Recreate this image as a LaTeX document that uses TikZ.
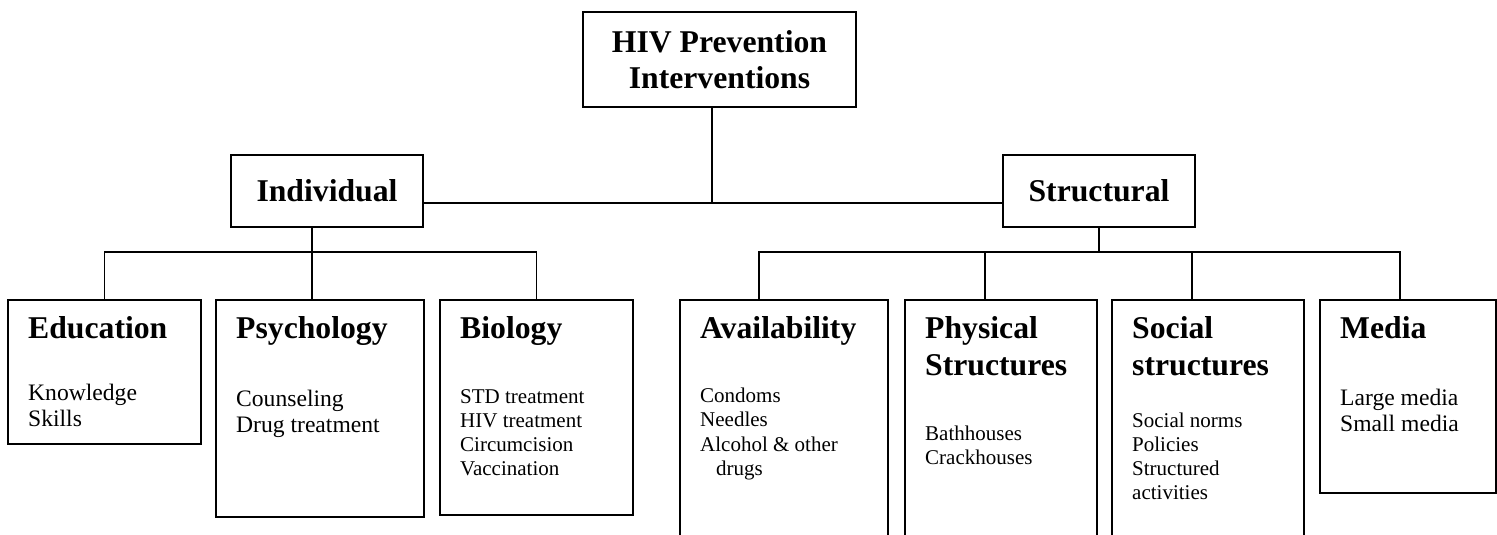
\documentclass[tikz,border=0pt]{standalone}
\usepackage{fontspec}
\setmainfont{Liberation Serif}

\begin{document}
\begin{tikzpicture}[x=1pt,y=-1pt,
  link/.style={line width=1.5pt},
  title/.style={draw, line width=1.5pt, inner sep=0pt, align=center,
    font=\fontsize{31.7}{36}\selectfont\bfseries},
  box/.style={draw, line width=1.5pt, inner sep=0pt, anchor=north west},
  head/.style={font=\fontsize{31.7}{37}\selectfont\bfseries, align=left,
    inner sep=0pt, anchor=base west, xshift=21pt},
  item/.style={font=\fontsize{21}{24.3}\selectfont, align=left,
    inner sep=0pt, anchor=base west, xshift=21pt},
  bigitem/.style={font=\fontsize{23.6}{26.5}\selectfont, align=left,
    inner sep=0pt, anchor=base west, xshift=21pt}]

\useasboundingbox (0,0) rectangle (1497,535);
\clip (0,0) rectangle (1497,535);

% top levels
\node[title, minimum width=273pt, minimum height=95pt] (top) at (719.5,59.5) {HIV Prevention\\Interventions};
\node[title, minimum width=192pt, minimum height=72pt] (ind) at (327,191) {Individual};
\node[title, minimum width=192pt, minimum height=72pt] (str) at (1099,191) {Structural};

% boxes of the lowest level
\node[box, minimum width=193pt, minimum height=144pt] (edu)   at (7,299)    {};
\node[box, minimum width=208pt, minimum height=217pt] (psy)   at (215,299)  {};
\node[box, minimum width=193pt, minimum height=215pt] (bio)   at (439,299)  {};
\node[box, minimum width=208pt, minimum height=260pt] (avail) at (679,299)  {};
\node[box, minimum width=192pt, minimum height=260pt] (phys)  at (904,299)  {};
\node[box, minimum width=192pt, minimum height=260pt] (soc)   at (1111,299) {};
\node[box, minimum width=176pt, minimum height=193pt] (media) at (1319,299) {};

% texts (base = baseline of the last line)
\node[head, yshift=-39pt] (edu-h) at (edu.north west) {Education};
\node[bigitem, yshift=-127.5pt] (edu-t) at (edu.north west) {Knowledge\\Skills};
\node[head, yshift=-39pt] (psy-h) at (psy.north west) {Psychology};
\node[bigitem, yshift=-133.5pt] (psy-t) at (psy.north west) {Counseling\\Drug treatment};
\node[head, yshift=-39pt] (bio-h) at (bio.north west) {Biology};
\node[item, yshift=-176.9pt] (bio-t) at (bio.north west) {STD treatment\\HIV treatment\\Circumcision\\Vaccination};
\node[head, yshift=-39pt] (avail-h) at (avail.north west) {Availability};
\node[item, yshift=-176.4pt] (avail-t) at (avail.north west) {Condoms\\Needles\\Alcohol \& other\\\hspace*{16pt}drugs};
\node[head, yshift=-76pt] (phys-h) at (phys.north west) {Physical\\Structures};
\node[item, yshift=-165.3pt] (phys-t) at (phys.north west) {Bathhouses\\Crackhouses};
\node[head, yshift=-76pt] (soc-h) at (soc.north west) {Social\\structures};
\node[item, yshift=-200.9pt] (soc-t) at (soc.north west) {Social norms\\Policies\\Structured\\activities};
\node[head, yshift=-39pt] (media-h) at (media.north west) {Media};
\node[bigitem, yshift=-132.5pt] (media-t) at (media.north west) {Large media\\Small media};

% connectors
\coordinate (hub) at (712,203);
\draw[link] (top.south -| hub) -- (hub);
\draw[link] (ind.east |- hub) -- (str.west |- hub);

\coordinate (ibus) at (312,252);
\draw[link] (ind.south -| ibus) -- (ibus);
\draw[link] (edu.north) |- (bio.north |- ibus) -- (bio.north);
\draw[link] (ibus) -- (ibus |- psy.north);

\coordinate (s1) at (759,252);
\coordinate (s2) at (985,252);
\coordinate (s3) at (1192,252);
\coordinate (s4) at (1400,252);
\draw[link] (str.south) -- (str.south |- s1);
\draw[link] (s1 |- avail.north) -- (s1) -- (s4) -- (s4 |- media.north);
\foreach \c/\b in {s2/phys, s3/soc}
  \draw[link] (\c) -- (\c |- \b.north);

\end{tikzpicture}
\end{document}
